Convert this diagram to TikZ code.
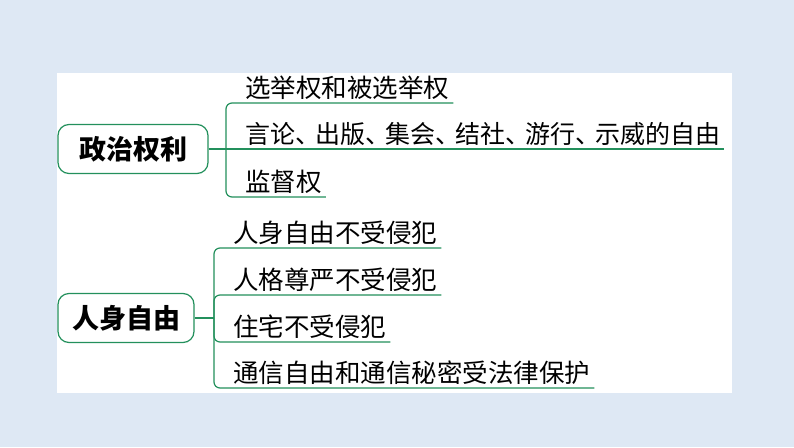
\documentclass[tikz,border=0pt]{standalone}
\usepackage{fontspec}
\newfontfamily\cjk{Noto Sans CJK SC}
\usetikzlibrary{positioning,calc}
\definecolor{pagebg}{HTML}{DEE8F4}
\definecolor{mapgreen}{HTML}{23905C}
\newcommand{\dun}{\makebox[0.8em][l]{、}}

\begin{document}
\begin{tikzpicture}[x=1pt, y=-1pt,
    font=\cjk,
    topic/.style={draw=mapgreen, line width=1.2pt, rounded corners=11pt, fill=white,
      minimum height=49pt, font=\cjk\bfseries\fontsize{27}{30}\selectfont},
    item/.style={anchor=south west, inner xsep=4pt, inner ysep=3pt,
      font=\cjk\fontsize{25.5}{28}\selectfont},
    branch/.style={draw=mapgreen, line width=1.2pt, rounded corners=6pt}]
  \fill[pagebg] (0,0) rectangle (794,447);
  \useasboundingbox (0,0) rectangle (794,447);
  \fill[white] (57,73) rectangle (732,393);
  % political rights
  \node[topic, minimum width=150pt] (pol) at (133,149) {政治权利};
  \coordinate (s1) at (226,149);
  \node[item] (p1) at (241,103) {选举权和被选举权};
  \node[item, font=\cjk\fontsize{25}{28}\selectfont] (p2) at (241,149)
    {言论\dun 出版\dun 集会\dun 结社\dun 游行\dun 示威的自由};
  \node[item] (p3) at (241,197) {监督权};
  \draw[branch] (pol.east) -- (p2.south east);
  \draw[branch] (s1) |- (p1.south east);
  \draw[branch] (s1) |- (p3.south east);
  % personal freedom
  \node[topic, minimum width=136pt] (per) at (126,318) {人身自由};
  \coordinate (s2) at (214,318);
  \node[item] (f1) at (229,248) {人身自由不受侵犯};
  \node[item] (f2) at (229,295) {人格尊严不受侵犯};
  \node[item] (f3) at (229,342) {住宅不受侵犯};
  \node[item] (f4) at (229,388) {通信自由和通信秘密受法律保护};
  \draw[branch] (per.east) -- (s2);
  \foreach \f in {f1,f2,f3,f4}
    \draw[branch] (s2) |- (\f.south east);
\end{tikzpicture}
\end{document}
